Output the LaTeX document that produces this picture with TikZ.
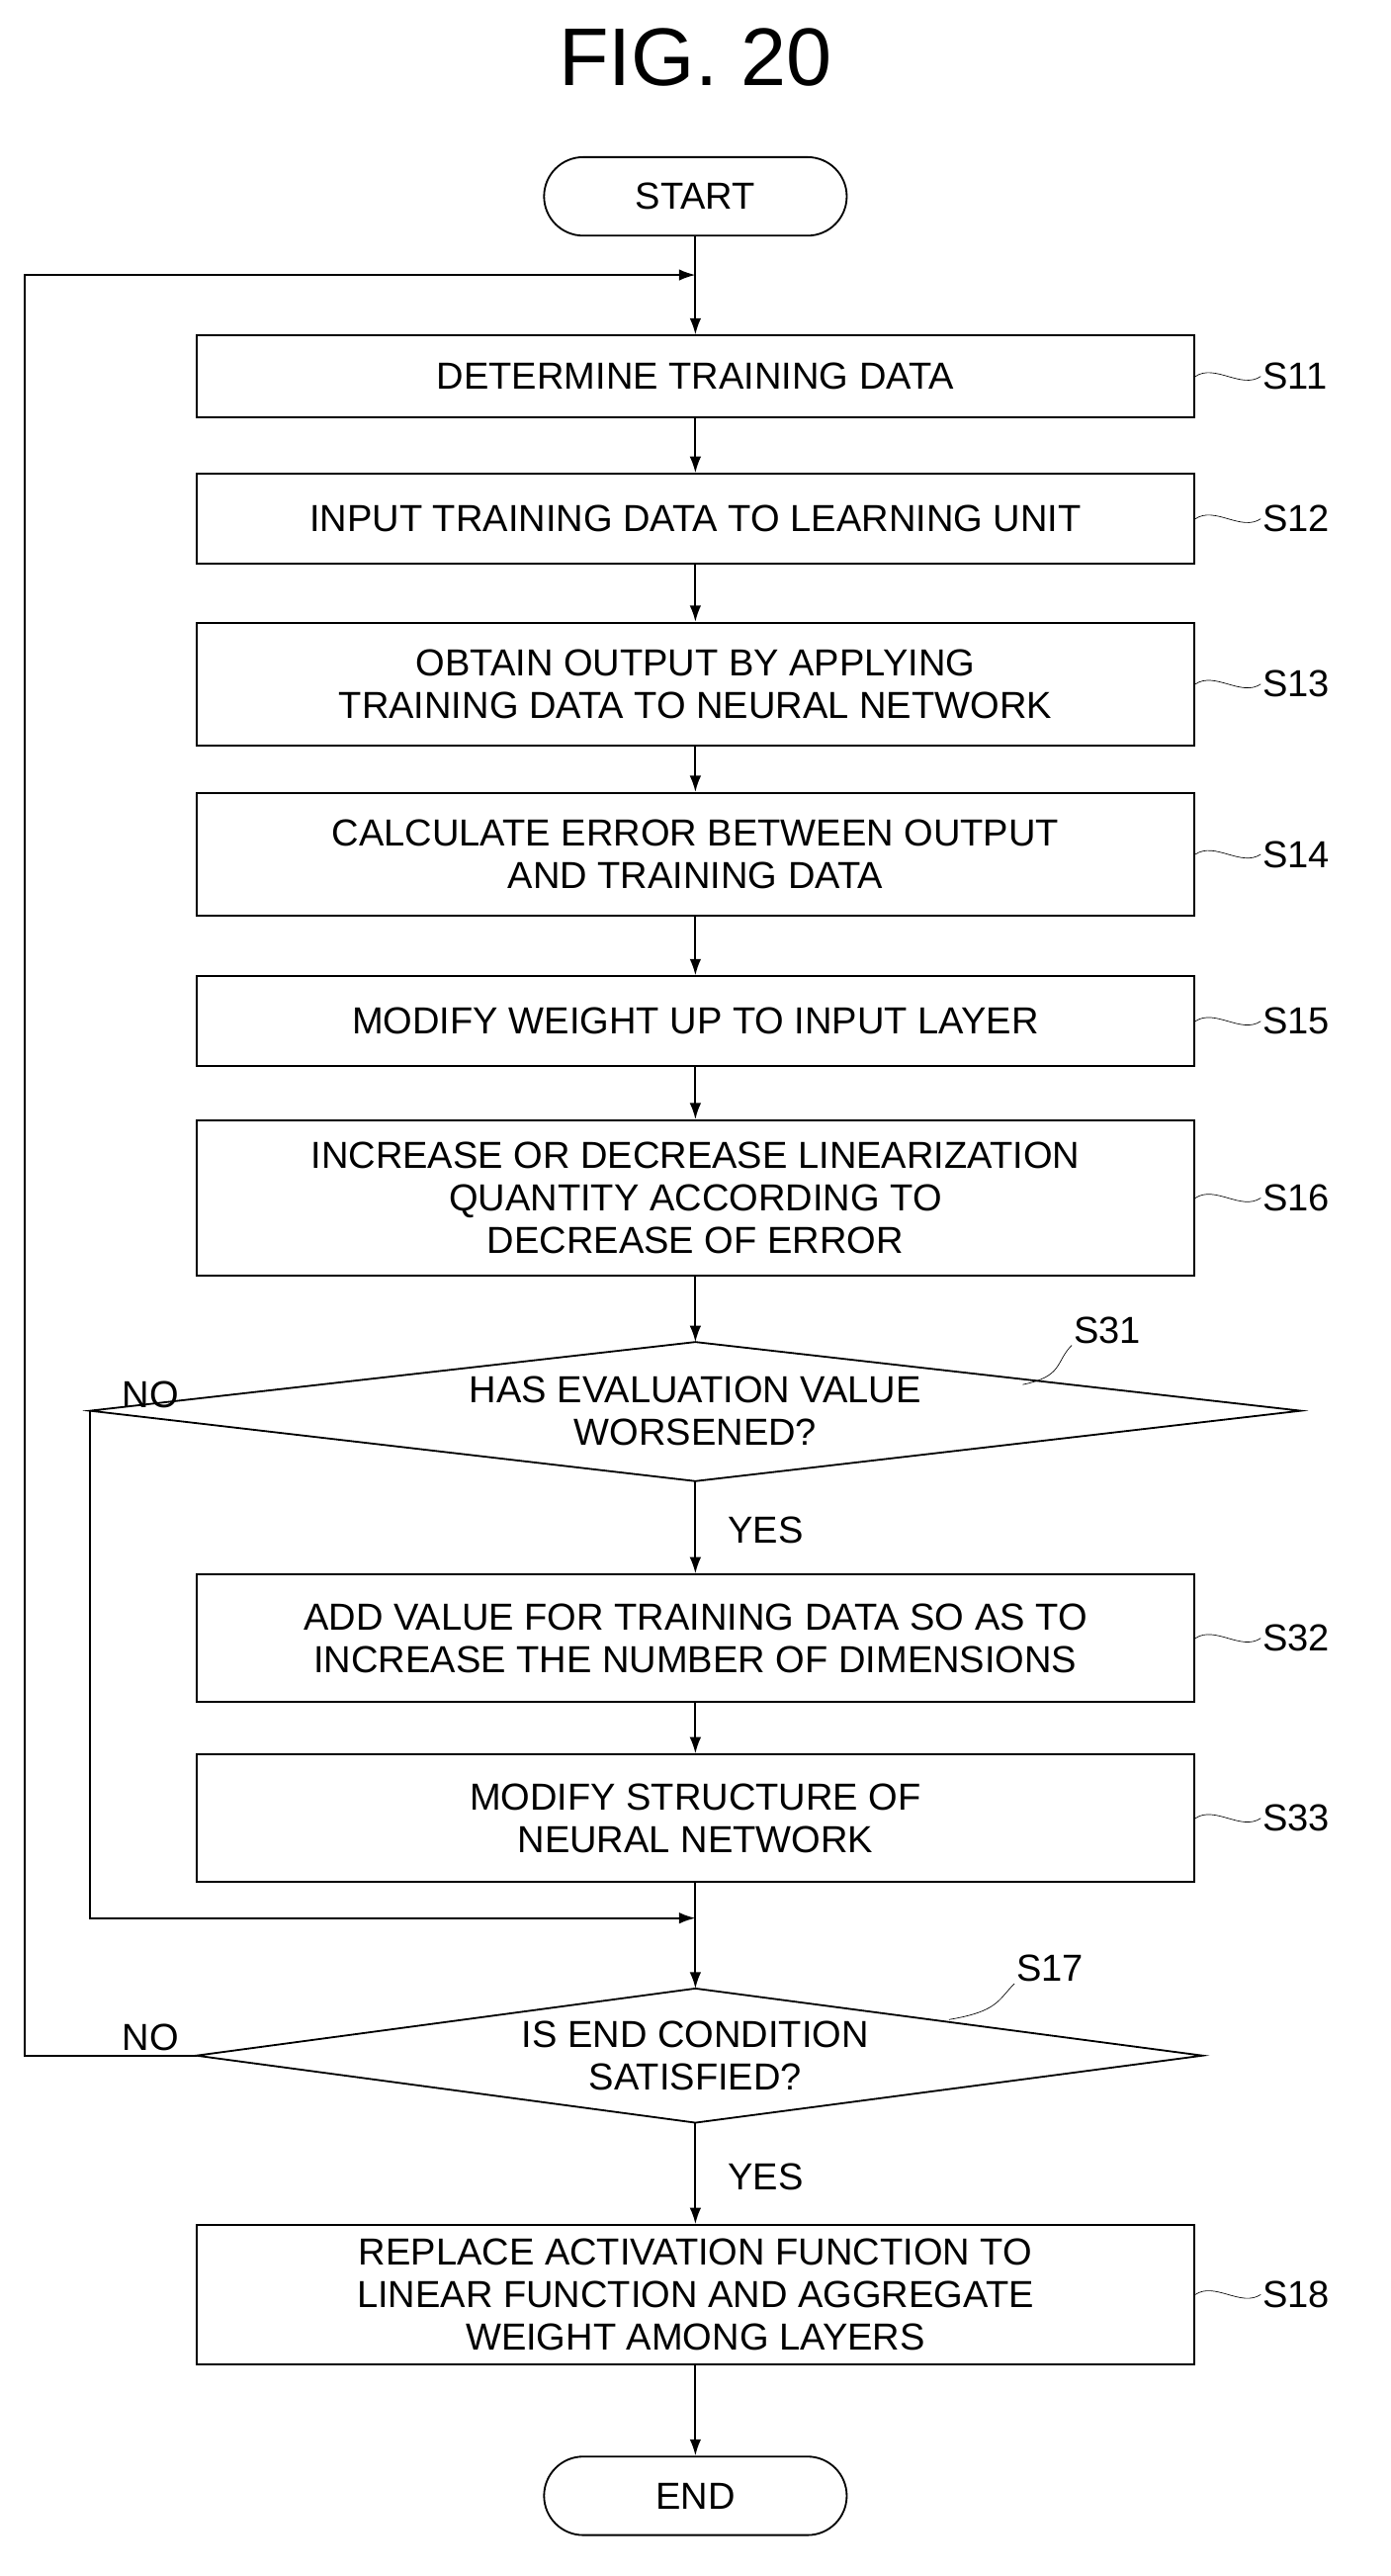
\documentclass[tikz,border=0pt]{standalone}
\usepackage{fontspec}
\setmainfont{Liberation Sans}
\usetikzlibrary{arrows.meta,shapes,positioning}

\newcommand{\steplbl}[3]{% node, y, text
  \draw[thin] (#1.east) .. controls +(12,-8) and +(-12,8) .. ++(40,0) node[right, inner sep=1pt] {#3};
}

\begin{document}
\begin{tikzpicture}[
        x=1pt, y=-1pt,
        every node/.style={align=center, font=\fontsize{23}{26}\selectfont},
        every path/.style={line width=1.1pt},
        procbox/.style={draw, minimum width=610pt, inner sep=2pt},
        term/.style={draw, rounded corners=24pt, minimum width=185pt, minimum height=48pt},
        arr/.style={-{Latex[length=10pt,width=7pt]}}
    ]
    \useasboundingbox (0,0) rectangle (850,1574);

    % Title
    \node[font=\fontsize{50}{55}\selectfont] (title) at (425,35) {FIG. 20};

    % Nodes
    \node[term] (start) at (425,120) {START};
    \node[procbox, minimum height=50pt] (s11) at (425,230) {DETERMINE TRAINING DATA};
    \node[procbox, minimum height=55pt] (s12) at (425,317) {INPUT TRAINING DATA TO LEARNING UNIT};
    \node[procbox, minimum height=75pt] (s13) at (425,418) {OBTAIN OUTPUT BY APPLYING\\TRAINING DATA TO NEURAL NETWORK};
    \node[procbox, minimum height=75pt] (s14) at (425,522) {CALCULATE ERROR BETWEEN OUTPUT\\AND TRAINING DATA};
    \node[procbox, minimum height=55pt] (s15) at (425,624) {MODIFY WEIGHT UP TO INPUT LAYER};
    \node[procbox, minimum height=95pt] (s16) at (425,732) {INCREASE OR DECREASE LINEARIZATION\\QUANTITY ACCORDING TO\\DECREASE OF ERROR};
    \path[draw] (55,862) -- (425,820) -- (795,862) -- (425,905) -- cycle;
    \coordinate (s31w) at (55,862);
    \coordinate (s31n) at (425,820);
    \coordinate (s31s) at (425,905);
    \coordinate (s31ne) at (625,846);
    \node (t31) at (425,862) {HAS EVALUATION VALUE\\WORSENED?};
    \node[procbox, minimum height=78pt] (s32) at (425,1001) {ADD VALUE FOR TRAINING DATA SO AS TO\\INCREASE THE NUMBER OF DIMENSIONS};
    \node[procbox, minimum height=78pt] (s33) at (425,1111) {MODIFY STRUCTURE OF\\NEURAL NETWORK};
    \coordinate (merge) at (425,1172);
    \path[draw] (120,1256) -- (425,1215) -- (735,1256) -- (425,1297) -- cycle;
    \coordinate (s17w) at (120,1256);
    \coordinate (s17n) at (425,1215);
    \coordinate (s17s) at (425,1297);
    \coordinate (s17ne) at (580,1234);
    \node (t17) at (425,1256) {IS END CONDITION\\SATISFIED?};
    \node[procbox, minimum height=85pt] (s18) at (425,1402) {REPLACE ACTIVATION FUNCTION TO\\LINEAR FUNCTION AND AGGREGATE\\WEIGHT AMONG LAYERS};
    \node[term] (end) at (425,1525) {END};
    \coordinate (loop) at (425,168);

    % Labels
    \steplbl{s11}{230}{S11}
    \steplbl{s12}{317}{S12}
    \steplbl{s13}{418}{S13}
    \steplbl{s14}{522}{S14}
    \steplbl{s15}{624}{S15}
    \steplbl{s16}{732}{S16}
    \steplbl{s32}{1001}{S32}
    \steplbl{s33}{1111}{S33}
    \steplbl{s18}{1402}{S18}
    \draw[thin] (s31ne) .. controls +(25,-5) and +(-10,10) .. (655,822) node[above right, inner sep=1pt] {S31};
    \draw[thin] (s17ne) .. controls +(30,-5) and +(-10,10) .. (620,1212) node[above right, inner sep=1pt] {S17};
    \node (no1) at (92,852) {NO};
    \node (yes1) at (468,935) {YES};
    \node (no2) at (92,1245) {NO};
    \node (yes2) at (468,1330) {YES};

    % Edges
    \draw (start) -- (loop);
    \draw[arr] (loop) -- (s11);
    \draw[arr] (s11) -- (s12);
    \draw[arr] (s12) -- (s13);
    \draw[arr] (s13) -- (s14);
    \draw[arr] (s14) -- (s15);
    \draw[arr] (s15) -- (s16);
    \draw[arr] (s16) -- (s31n);
    \draw[arr] (s31s) -- (s32);
    \draw[arr] (s32) -- (s33);
    \draw (s33) -- (merge);
    \draw[arr] (s31w) |- (merge);
    \draw[arr] (merge) -- (s17n);
    \draw[arr] (s17w) -- (15,1256) |- (loop);
    \draw[arr] (s17s) -- (s18);
    \draw[arr] (s18) -- (end);
\end{tikzpicture}
\end{document}
